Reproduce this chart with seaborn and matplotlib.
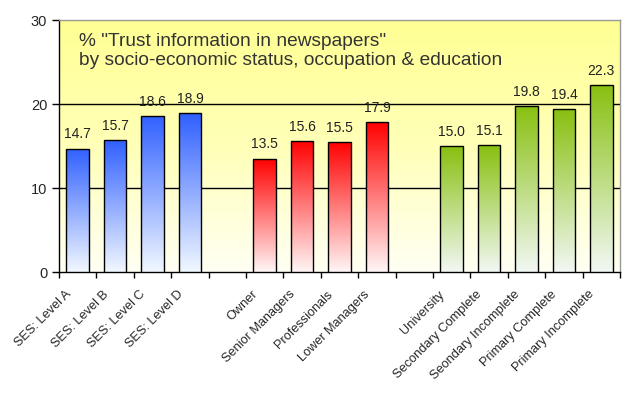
import numpy as np
import pandas as pd
import seaborn as sns
import matplotlib
matplotlib.use("Agg")
import matplotlib.pyplot as plt
import matplotlib.transforms as mtrans
from matplotlib.colors import LinearSegmentedColormap

# data
ses_labels = ['SES: Level A', 'SES: Level B', 'SES: Level C', 'SES: Level D']
ses_values = [14.7, 15.7, 18.6, 18.9]
occ_labels = ['Owner', 'Senior Managers', 'Professionals', 'Lower Managers']
occ_values = [13.5, 15.6, 15.5, 17.9]
edu_labels = ['University', 'Secondary Complete', 'Seondary Incomplete', 'Primary Complete', 'Primary Incomplete']
edu_values = [15.0, 15.1, 19.8, 19.4, 22.3]
gap_labels = [' ', '  ']

title = '% "Trust information in newspapers"\nby socio-economic status, occupation & education'

order = ses_labels + [gap_labels[0]] + occ_labels + [gap_labels[1]] + edu_labels
df = pd.DataFrame({
    'label': ses_labels + occ_labels + edu_labels,
    'value': ses_values + occ_values + edu_values,
    'group': ['ses'] * len(ses_labels) + ['occ'] * len(occ_labels) + ['edu'] * len(edu_labels),
})
top_colors = {'ses': '#3060FF', 'occ': '#FF0000', 'edu': '#88C010'}
low_colors = {'ses': '#F2F8FF', 'occ': '#FFF6F6', 'edu': '#F2F8F4'}

sns.set_style("white")
plt.rcParams['font.family'] = ['Liberation Sans', 'DejaVu Sans']

fig = plt.figure(figsize=(6.29, 3.93), dpi=100)
ax = fig.add_axes([59 / 629, 1 - 272 / 393, 561 / 629, 252 / 393])

sns.barplot(data=df, x='label', y='value', hue='group', order=order,
            palette=top_colors, dodge=False, width=0.6, legend=False, ax=ax,
            edgecolor='black', linewidth=1, zorder=3)

ax.set_xlim(-0.5, len(order) - 0.5)
ax.set_ylim(0, 30)

# yellow background gradient
bg = LinearSegmentedColormap.from_list('bg', ['#FFFFF4', '#FFFFB8', '#FFFF94'])
ax.imshow(np.linspace(0, 1, 256).reshape(-1, 1), cmap=bg, origin='lower',
          extent=[0, 1, 0, 1], transform=ax.transAxes, aspect='auto', zorder=0)

# gradient fill in each bar
groups = df.set_index('label')['group']
for patch in ax.patches:
    h = patch.get_height()
    if np.isnan(h) or h == 0:
        continue
    x0 = patch.get_x()
    w = patch.get_width()
    xc = x0 + w / 2
    g = groups[order[int(round(xc))]]
    cm = LinearSegmentedColormap.from_list('g', [low_colors[g], top_colors[g]])
    im = ax.imshow(np.linspace(0, 1, 256).reshape(-1, 1), cmap=cm, origin='lower',
                   extent=[x0, x0 + w, 0, h], aspect='auto', zorder=3)
    im.set_clip_path(patch)
    patch.set_facecolor('none')
    patch.set_zorder(4)
    ax.text(xc, h + 0.85, f'{h:.1f}', ha='center', va='bottom', fontsize=10,
            color='#222222', zorder=5)

ax.set_xlim(-0.5, len(order) - 0.5)
ax.set_ylim(0, 30)

for yv in [10, 20]:
    ax.axhline(yv, color='black', lw=1, zorder=2)

ax.set_yticks([0, 10, 20, 30])
ax.tick_params(axis='y', direction='out', length=5, width=1, color='black',
               labelsize=10.5, left=True)
ax.set_xticks(np.arange(-0.5, len(order), 1))
ax.set_xticklabels([])
ax.set_xticks(np.arange(len(order)), minor=True)
ax.set_xticklabels(order, minor=True, rotation=45, ha='right',
                   rotation_mode='anchor', fontsize=9.2)
ax.tick_params(axis='x', which='major', direction='out', length=4, width=1,
               color='black', bottom=True)
ax.tick_params(axis='x', which='minor', length=0, pad=6)
shift = mtrans.ScaledTranslation(-13 / 100, -8 / 100, fig.dpi_scale_trans)
for lab in ax.get_xticklabels(minor=True):
    lab.set_transform(lab.get_transform() + shift)
ax.set_xlabel('')
ax.set_ylabel('')

for s in ['left', 'bottom']:
    ax.spines[s].set_color('black')
    ax.spines[s].set_linewidth(1)
for s in ['top', 'right']:
    ax.spines[s].set_color('#999999')
    ax.spines[s].set_linewidth(1)

ax.text(20 / 561, 1 - 13 / 252, title, transform=ax.transAxes, ha='left', va='top',
        fontsize=13.8, color='#333333', linespacing=1.15, zorder=6)

fig.savefig('out.png', dpi=100)
